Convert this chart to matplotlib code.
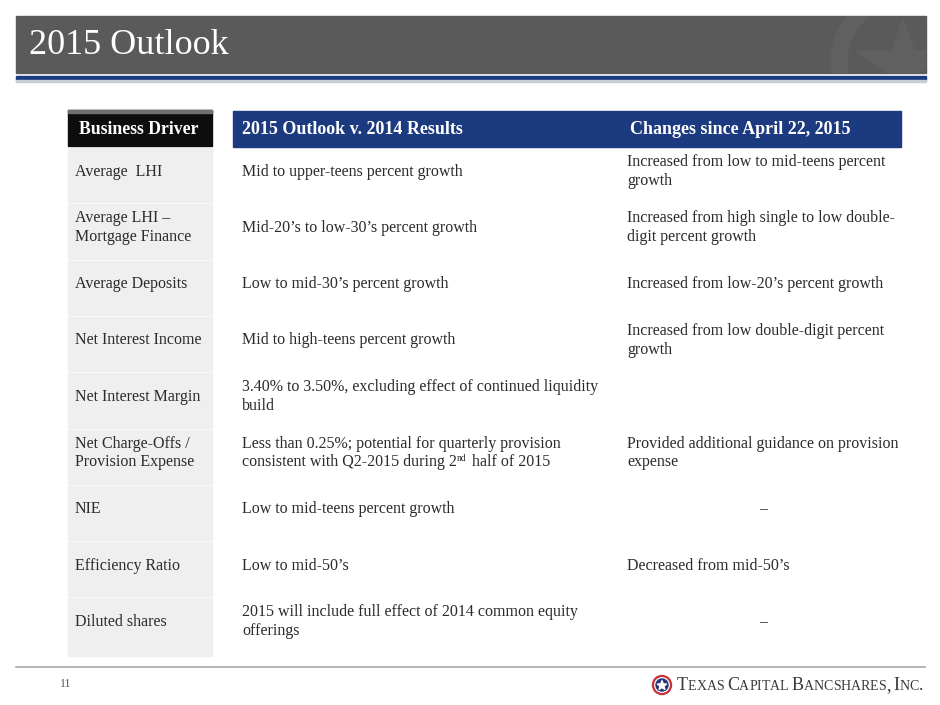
import matplotlib
matplotlib.use("Agg")
import matplotlib.pyplot as plt
from matplotlib.patches import Rectangle, Circle, Wedge, Polygon
import numpy as np

# table content
header = ["Business Driver", "2015 Outlook v. 2014 Results", "Changes since April 22, 2015"]
drivers = ["Average  LHI", "Average LHI –\nMortgage Finance", "Average Deposits",
           "Net Interest Income", "Net Interest Margin",
           "Net Charge-Offs /\nProvision Expense", "NIE", "Efficiency Ratio",
           "Diluted shares"]
outlook = ["Mid to upper-teens percent growth",
           "Mid-20’s to low-30’s percent growth",
           "Low to mid-30’s percent growth",
           "Mid to high-teens percent growth",
           "3.40% to 3.50%, excluding effect of continued liquidity\nbuild",
           "Less than 0.25%; potential for quarterly provision\nconsistent with Q2-2015 during 2^nd^ half of 2015",
           "Low to mid-teens percent growth",
           "Low to mid-50’s",
           "2015 will include full effect of 2014 common equity\nofferings"]
changes = ["Increased from low to mid-teens percent\ngrowth",
           "Increased from high single to low double-\ndigit percent growth",
           "Increased from low-20’s percent growth",
           "Increased from low double-digit percent\ngrowth",
           "",
           "Provided additional guidance on provision\nexpense",
           "–",
           "Decreased from mid-50’s",
           "–"]
title = "2015 Outlook"
page_no = "11"
company = "Texas Capital Bancshares, Inc."

SERIF = "Liberation Serif"
TXT = "#2b2b2b"
BLUE = "#1c3a80"

fig = plt.figure(figsize=(9.4, 7.05), dpi=100)
ax = fig.add_axes([0, 0, 1, 1])
ax.set_xlim(0, 940)
ax.set_ylim(705, 0)
ax.axis("off")
fig.canvas.draw()
rend = fig.canvas.get_renderer()


def width_px(t):
    bb = t.get_window_extent(renderer=rend)
    return bb.width


def draw_line(x, y, s, size, ha="left"):
    # handles ^sup^ pieces for superscripts
    if "^" not in s:
        ax.text(x, y, s, fontsize=size, family=SERIF, color=TXT, ha=ha, va="center")
        return
    parts = s.split("^")
    cx = x
    for i, p in enumerate(parts):
        if i % 2 == 1:
            t = ax.text(cx, y - 4, p, fontsize=size * 0.6, family=SERIF, color=TXT,
                        ha="left", va="center")
        else:
            t = ax.text(cx, y, p, fontsize=size, family=SERIF, color=TXT,
                        ha="left", va="center")
        cx += width_px(t) + (1 if i % 2 == 1 else 0)


def draw_cell(x, yc, s, size=11.5, ha="left", gap=19):
    lines = s.split("\n")
    n = len(lines)
    for k, ln in enumerate(lines):
        draw_line(x, yc + (k - (n - 1) / 2) * gap, ln, size, ha)


def star_pts(cx, cy, r_out, r_in):
    ang = np.pi / 2 + np.arange(10) * np.pi / 5
    r = np.where(np.arange(10) % 2 == 0, r_out, r_in)
    return np.column_stack([cx + r * np.cos(ang), cy - r * np.sin(ang)])


# title bar
bar = Rectangle((16, 16), 910, 57, color="#5a5a5a", zorder=1)
ax.add_patch(bar)
ring = Wedge((905, 62), 74, 0, 360, width=16, color="#606060", zorder=2)
ax.add_patch(ring)
ring.set_clip_path(bar)
star = Polygon(star_pts(903, 66, 48, 19), closed=True, color="#606060", zorder=2)
ax.add_patch(star)
star.set_clip_path(bar)
ax.add_patch(Rectangle((16, 76), 910, 4, color=BLUE, zorder=1))
ax.add_patch(Rectangle((16, 80), 910, 1.5, color="#c8cdd8", zorder=1))
ax.text(29, 45, title, fontsize=26, family=SERIF, color="white", va="center", ha="left")

# header row
ax.add_patch(Rectangle((68, 110), 144, 36, color="#0d0d0d"))
ax.add_patch(Rectangle((68, 110), 144, 2.5, color="#707070"))
ax.add_patch(Rectangle((233, 111), 668, 36, color=BLUE))
ax.text(139, 129, header[0], fontsize=12.8, family=SERIF, weight="bold", color="white",
        ha="center", va="center")
ax.text(242, 129, header[1], fontsize=13, family=SERIF, weight="bold", color="white",
        ha="left", va="center")
ax.text(630, 129, header[2], fontsize=13, family=SERIF, weight="bold", color="white",
        ha="left", va="center")

# body rows
top = 148
pitch = 56.3
for i in range(len(drivers)):
    y0 = top + i * pitch
    h = pitch - 2 if i < len(drivers) - 1 else 58
    ax.add_patch(Rectangle((68, y0), 144, h, color="#efefef"))
    yc = y0 + 23.5
    draw_cell(75, yc, drivers[i])
    draw_cell(242, yc, outlook[i])
    if changes[i] == "–":
        draw_cell(763, yc, changes[i], ha="center")
    elif changes[i]:
        draw_cell(627, yc, changes[i])

# footer
ax.plot([16, 925], [667, 667], color="#a8a8a8", lw=1.2)
ax.text(60, 684, page_no, fontsize=8.5, family=SERIF, color="#555555",
        ha="left", va="center")

# logo
lx, ly = 662, 685
ax.add_patch(Circle((lx, ly), 9.5, color="#c8323a"))
ax.add_patch(Circle((lx, ly), 7.2, color="white"))
ax.add_patch(Circle((lx, ly), 6, color="#22387a"))
ax.add_patch(Polygon(star_pts(lx, ly + 0.5, 5, 2), closed=True, color="white"))

cx = 677
for w in company.split(" "):
    for j, ch in enumerate(w):
        if ch.isupper() or not ch.isalpha():
            t = ax.text(cx, ly + 5, ch.upper(), fontsize=13, family=SERIF, color="#3a3a3a",
                        ha="left", va="baseline")
        else:
            t = ax.text(cx, ly + 5, ch.upper(), fontsize=10, family=SERIF, color="#3a3a3a",
                        ha="left", va="baseline")
        cx += width_px(t)
    cx += 3

fig.savefig("out.png", dpi=100)
